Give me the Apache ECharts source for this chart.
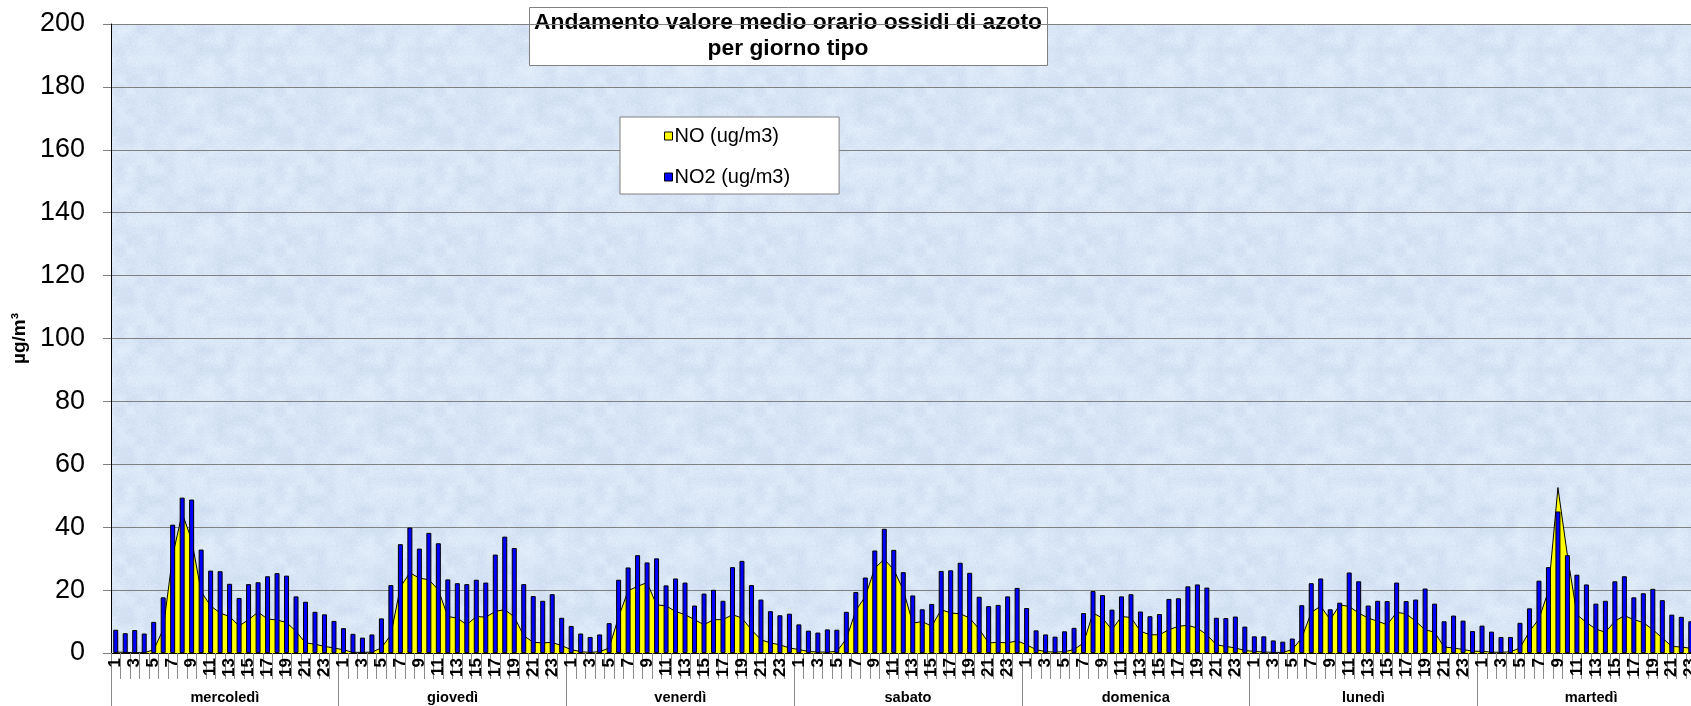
<!DOCTYPE html>
<html>
<head>
<meta charset="utf-8">
<script src="https://cdn.jsdelivr.net/npm/echarts@6/dist/echarts.min.js"></script>
<style>
  html, body { margin: 0; padding: 0; overflow: hidden; background: #ffffff; }
  #chart { width: 1720px; height: 706px; }
</style>
</head>
<body>
<div id="chart"></div>
<script>
// Days of the typical week, in the order they are plotted
const days = ['mercoledì', 'giovedì', 'venerdì', 'sabato', 'domenica', 'lunedì', 'martedì'];
// Hours of the day (1..24)
const hours = ['1','2','3','4','5','6','7','8','9','10','11','12','13','14','15','16','17','18','19','20','21','22','23','24'];

// Mean hourly NO (ug/m3), one block of 24 values per day
const noMer = [0.3,0.2,0.1,0.1,1.0,7.5,31,44.4,36,19.5,15,12.7,11.6,8.6,10.6,13,10.8,10.5,9.7,6.9,3.2,2.8,2.1,1.6];
const noGio = [1.0,0.2,0.2,0.3,1.6,5.8,21,25.5,23.8,23.3,20.1,11.6,11.1,9.0,11.6,11.4,13.2,13.8,11.5,5.5,3.4,3.2,3.4,2.3];
const noVen = [1.1,0.4,0.2,0.4,1.6,11.5,19.8,21.2,22.4,15.3,15.0,13.2,12.2,10.6,9.0,10.6,10.6,12.2,11.1,7.4,4.2,3.2,2.6,1.6];
const noSab = [1.1,0.5,0.3,0.3,0.5,4.5,13.5,18,27,29.8,26.5,20.1,9.5,10.0,8.5,13.8,12.7,12.5,11.1,7.6,3.2,3.4,3.2,3.9];
const noDom = [2.6,1.1,0.4,0.3,0.4,1.1,3.2,12.7,11.1,7.4,11.6,11.3,6.9,5.8,5.8,7.4,8.5,8.8,7.9,5.8,2.6,2.1,1.6,0.8];
const noLun = [0.5,0.3,0.2,0.2,1.1,4.8,12.9,14.9,10.6,15.3,14.8,12.7,11.1,10.1,9.0,12.9,12.5,10.1,7.4,6.6,1.9,1.6,1.1,0.6];
const noMar = [0.5,0.3,0.2,0.4,1.6,6.9,10.8,19.8,52.6,31,12.2,9.7,7.6,6.6,10.1,11.9,10.6,9.7,7.4,4.8,2.1,1.9,1.5,1.2];

// Mean hourly NO2 (ug/m3)
const no2Mer = [7.4,6.3,7.3,6.2,9.9,17.7,40.8,49.4,48.8,32.9,26.2,26.0,22.0,17.5,21.9,22.5,24.4,25.4,24.6,18.0,16.3,13.1,12.3,10.2];
const no2Gio = [7.9,6.1,4.9,5.9,11.0,21.6,34.6,39.9,33.2,38.2,34.9,23.4,22.2,21.9,23.3,22.4,31.3,37.0,33.4,21.9,18.1,16.6,18.7,11.2];
const no2Ven = [8.6,6.2,5.1,5.9,9.5,23.3,27.2,31.1,28.8,30.1,21.5,23.7,22.4,15.1,18.9,20.1,16.6,27.3,29.3,21.6,17.0,13.3,12.0,12.5];
const no2Sab = [9.1,7.1,6.5,7.5,7.4,13.1,19.4,24.0,32.6,39.5,32.8,25.7,18.3,13.9,15.6,26.1,26.3,28.7,25.5,17.9,14.9,15.3,18.0,20.7];
const no2Dom = [14.3,7.2,5.9,5.2,6.9,8.0,12.7,19.7,18.4,13.8,18.0,18.7,13.2,11.7,12.4,17.2,17.4,21.2,21.8,20.8,11.2,11.1,11.6,8.4];
const no2Lun = [5.3,5.3,4.0,3.6,4.6,15.2,22.2,23.7,13.9,16.0,25.6,22.8,15.1,16.6,16.5,22.4,16.5,17.0,20.5,15.7,10.1,11.9,10.3,7.0];
const no2Mar = [8.7,6.8,5.1,5.1,9.6,14.2,23.0,27.3,45.0,31.1,24.9,21.8,15.7,16.6,22.8,24.4,17.7,19.0,20.4,16.8,12.2,11.5,10.1,9.0];

// Value axis range
const yMin = 0, yMax = 200, yStep = 20;

const FONT = '"Liberation Sans", Arial, Helvetica, sans-serif';

const hourCats = days.flatMap(() => hours);
const noData = [].concat(noMer, noGio, noVen, noSab, noDom, noLun, noMar);
const no2Data = [].concat(no2Mer, no2Gio, no2Ven, no2Sab, no2Dom, no2Lun, no2Mar);

// Pale blue paper texture for the plot background: a seamless tile of smooth
// value noise plus a fine grain, built from a deterministic hash.
function paperTile() {
  const size = 160, cell = 10, cells = size / cell;
  const c = document.createElement('canvas');
  c.width = size; c.height = size;
  const ctx = c.getContext('2d');
  const img = ctx.createImageData(size, size);
  const hash = (x, y) => {
    const s = Math.sin(x * 127.1 + y * 311.7) * 43758.5453;
    return s - Math.floor(s);
  };
  const lattice = (i, j) => hash(((i % cells) + cells) % cells, ((j % cells) + cells) % cells);
  const smooth = t => t * t * (3 - 2 * t);
  for (let y = 0; y < size; y++) {
    for (let x = 0; x < size; x++) {
      const gx = x / cell, gy = y / cell;
      const i = Math.floor(gx), j = Math.floor(gy);
      const fx = smooth(gx - i), fy = smooth(gy - j);
      const a = lattice(i, j), b = lattice(i + 1, j);
      const d = lattice(i, j + 1), e = lattice(i + 1, j + 1);
      const v = (a * (1 - fx) + b * fx) * (1 - fy) + (d * (1 - fx) + e * fx) * fy;
      const g = hash(x + 0.37, y + 0.71);
      const light = (v - 0.5) * 14 + (g - 0.5) * 10;
      const k = (y * size + x) * 4;
      img.data[k] = Math.max(0, Math.min(255, 216 + light));
      img.data[k + 1] = Math.max(0, Math.min(255, 229 + light * 0.9));
      img.data[k + 2] = Math.max(0, Math.min(255, 245 + light * 0.4));
      img.data[k + 3] = 255;
    }
  }
  ctx.putImageData(img, 0, 0);
  return c;
}

const chart = echarts.init(document.getElementById('chart'), null, { renderer: 'canvas' });

chart.setOption({
  animation: false,
  textStyle: { fontFamily: FONT, color: '#000' },
  grid: {
    left: 111, right: 15, top: 24, bottom: 53,
    show: true, backgroundColor: { image: paperTile(), repeat: 'repeat' }, borderWidth: 0
  },
  legend: {
    orient: 'vertical',
    left: 620, top: 117,
    padding: [9, 49, 7, 44],
    itemGap: 21,
    itemWidth: 8, itemHeight: 8,
    icon: 'rect',
    backgroundColor: '#ffffff',
    borderColor: '#808080', borderWidth: 1, borderRadius: 0,
    itemStyle: { borderColor: '#000', borderWidth: 1 },
    textStyle: { fontSize: 20, color: '#000', fontFamily: FONT, padding: [0, 0, 0, -3] },
    data: ['NO (ug/m3)', 'NO2 (ug/m3)']
  },
  graphic: [{
    type: 'group', left: 529, top: 7, z: 100,
    children: [
      { type: 'rect', shape: { x: 0.5, y: 0.5, width: 518, height: 58 },
        style: { fill: '#ffffff', stroke: '#808080', lineWidth: 1 } },
      { type: 'text', x: 259, y: 28.5,
        style: { text: 'Andamento valore medio orario ossidi di azoto\nper giorno tipo',
                 font: 'bold 22.8px ' + FONT, align: 'center', verticalAlign: 'middle',
                 lineHeight: 26, fill: '#000' } }
    ]
  }],
  xAxis: [{
    type: 'category',
    data: hourCats,
    position: 'bottom',
    boundaryGap: true,
    axisLine: { show: true, lineStyle: { color: '#000', width: 1 } },
    axisTick: { show: true, interval: 0, length: 26, lineStyle: { color: '#8a8a8a' } },
    axisLabel: { interval: 1, rotate: 90, fontSize: 17, fontWeight: 'bold', color: '#000', margin: 5, fontFamily: FONT },
    splitLine: { show: false }
  }, {
    type: 'category',
    data: days,
    position: 'bottom',
    boundaryGap: true,
    axisLine: { show: false },
    axisTick: { show: true, interval: 0, length: 53, lineStyle: { color: '#8a8a8a' } },
    axisLabel: { interval: 0, fontSize: 14.6, fontWeight: 'bold', color: '#000', margin: 37, fontFamily: FONT },
    splitLine: { show: false }
  }],
  yAxis: {
    type: 'value',
    min: yMin, max: yMax, interval: yStep,
    name: 'µg/m³',
    nameLocation: 'middle',
    nameGap: 78,
    nameRotate: 90,
    nameTextStyle: { fontSize: 19, fontWeight: 'bold', color: '#000', fontFamily: FONT },
    axisLine: { show: true, lineStyle: { color: '#000', width: 1 } },
    axisTick: { show: true, length: 8, lineStyle: { color: '#808080' } },
    axisLabel: { fontSize: 27, color: '#000', margin: 26, fontFamily: FONT },
    splitLine: { show: true, lineStyle: { color: '#808080', width: 1 } }
  },
  series: [{
    name: 'NO (ug/m3)',
    type: 'line',
    xAxisIndex: 0,
    z: 1,
    data: noData,
    symbol: 'none',
    itemStyle: { color: '#ffff00' },
    lineStyle: { color: '#000', width: 1 },
    areaStyle: { color: '#ffff00', opacity: 1 }
  }, {
    name: 'NO2 (ug/m3)',
    type: 'bar',
    xAxisIndex: 0,
    z: 3,
    data: no2Data,
    barWidth: 5,
    itemStyle: { color: '#0000ff', borderColor: '#000', borderWidth: 1 }
  }]
});
</script>
</body>
</html>
